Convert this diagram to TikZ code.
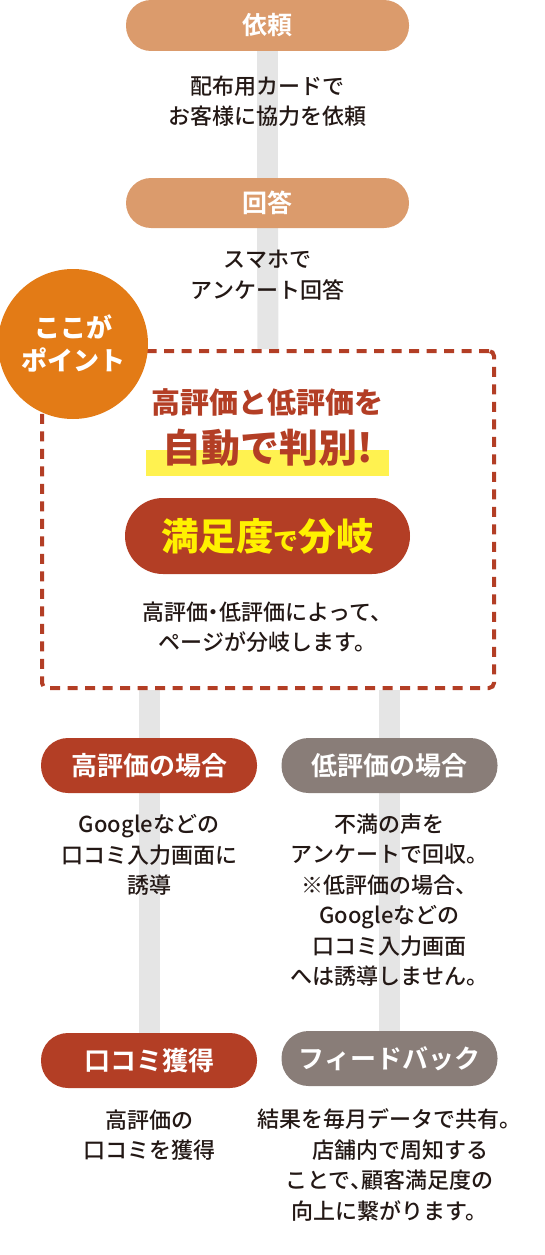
\documentclass[tikz,border=0pt]{standalone}
\usepackage{fontspec}
\newfontfamily\jp{Noto Sans CJK JP Medium}
\newfontfamily\jpbold{Noto Sans CJK JP Bold}
\newfontfamily\jpblack{Noto Sans CJK JP Black}
\usetikzlibrary{backgrounds}

\definecolor{tan}{RGB}{219,155,108}
\definecolor{orangept}{RGB}{227,123,22}
\definecolor{darkred}{RGB}{179,62,37}
\definecolor{graypill}{RGB}{137,125,120}
\definecolor{bargray}{RGB}{229,229,229}
\definecolor{ink}{RGB}{35,24,21}
\definecolor{lemon}{RGB}{255,241,0}
\definecolor{marker}{RGB}{255,242,80}

\newcommand\hw[1]{{\addfontfeatures{RawFeature=+halt}#1}}

\tikzset{
  pill/.style={rounded corners=25pt, minimum width=283pt, minimum height=51pt,
    inner sep=0pt, text=white, font=\jpbold\fontsize{25}{28}\selectfont},
  halfpill/.style={pill, rounded corners=27pt, minimum width=216pt, minimum height=55pt,
    font=\jpbold\fontsize{26}{28}\selectfont},
  body/.style={align=center, text=ink, inner sep=0pt, font=\jp\fontsize{22}{30.5}\selectfont},
  bar/.style={line width=21pt, bargray}
}

\begin{document}
\begin{tikzpicture}[x=1pt,y=-1pt]
        \useasboundingbox (0,0) rectangle (545,1255);
        \node[pill, fill=tan] (irai) at (267.5,25.5) {依頼};
        \node[body] (iraitext) at (267.5,101) {配布用カードで\\お客様に協力を依頼};
        \node[pill, fill=tan, minimum height=50pt] (kaitou) at (267.5,203) {回答};
        \node[body] (kaitoutext) at (267.5,275) {スマホで\\アンケート回答};
        \node[draw=darkred, line width=4pt, dash pattern=on 10pt off 7.5pt, rounded corners=5pt,
          minimum width=452pt, minimum height=337pt] (point) at (268,519.5) {};
        \fill[orangept] (73,344) circle (75);
        \node[align=center, text=white, font=\jpblack\fontsize{26}{33}\selectfont] (koko) at (73,343.5) {ここが\\ポイント};
        \node[text=darkred, font=\jpblack\fontsize{29}{32}\selectfont] (head) at (267,402) {高評価と低評価を};
        \fill[marker] (146,450) rectangle (389,476);
        \node[text=darkred, font=\jpblack\fontsize{39}{42}\selectfont] (hanbetsu) at (268,448) {自動で判別!};
        \node[pill, fill=darkred, rounded corners=38pt, minimum width=285pt, minimum height=76pt,
          text=lemon, font=\jpblack] (bunki) at (267.5,536)
          {{\fontsize{37.5}{40}\selectfont 満足度}{\fontsize{25}{30}\selectfont で}{\fontsize{37.5}{40}\selectfont 分岐}};
        \node[body] (bunkitext) at (267.5,627) {高評価\hw{・}低評価によって、\\ページが分岐します。};
        \node[halfpill, fill=darkred] (high) at (149,765.5) {高評価の場合};
        \node[halfpill, fill=graypill] (low) at (389.5,765.5) {低評価の場合};
        \node[body] (hightext) at (149,855) {Googleなどの\\口コミ入力画面に\\誘導};
        \node[body] (lowtext) at (389.5,900) {不満の声を\\アンケートで回収。\\※低評価の場合、\\Googleなどの\\口コミ入力画面\\へは誘導しません。};
        \node[halfpill, fill=darkred] (gain) at (149,1060.5) {口コミ獲得};
        \node[halfpill, fill=graypill] (feedback) at (389.5,1058.5) {フィードバック};
        \node[body] (gaintext) at (149,1135) {高評価の\\口コミを獲得};
        \node[body] (feedbacktext) at (389.5,1165) {結果を毎月データで共有。\\　店舗内で周知する\\ことで\hw{、}顧客満足度の\\向上に繋がります。};
        \begin{scope}[on background layer]
          \draw[bar] (irai.south) -- (kaitou.north);
          \draw[bar] (kaitou.south) -- (point.north);
          \draw[bar] (point.south -| high.north) -- (gain.north);
          \draw[bar] (point.south -| low.north) -- (feedback.north);
        \end{scope}
    \end{tikzpicture}
\end{document}
